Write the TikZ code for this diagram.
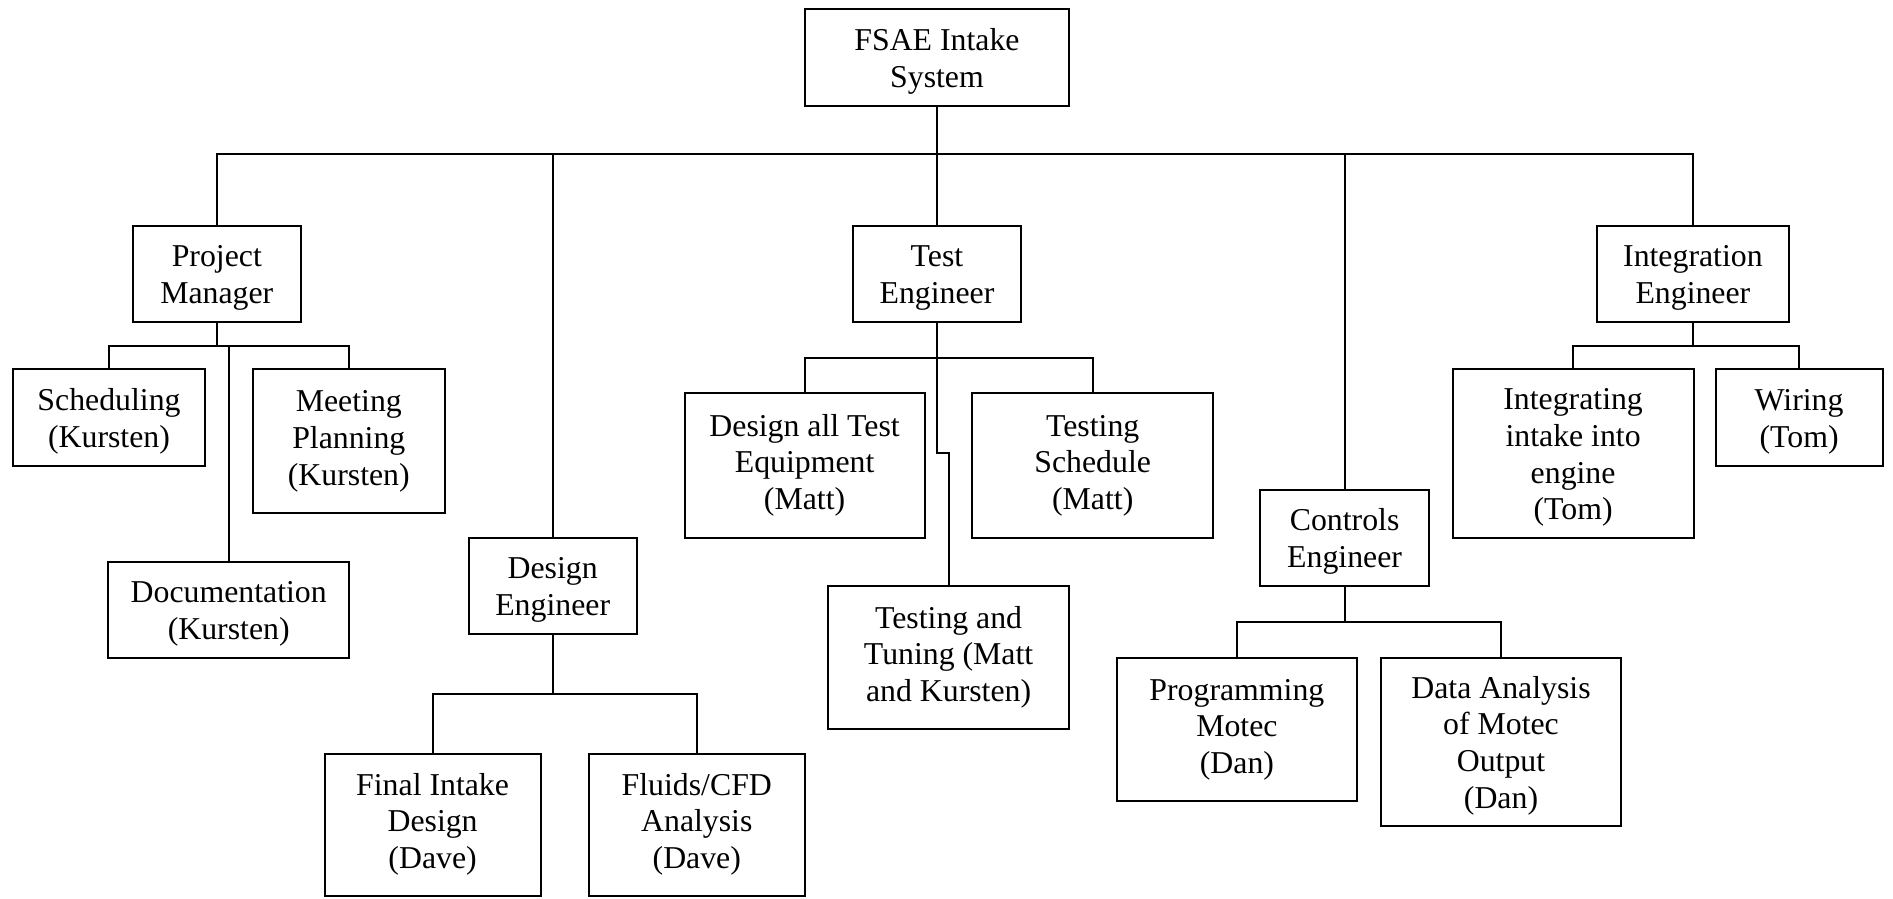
\documentclass[tikz,border=0pt]{standalone}
\usepackage{fontspec}
\setmainfont{Liberation Serif}
\newcommand{\fstrut}{\rule{0pt}{29.5pt}}
\newcommand{\lstrut}{\rule[-15pt]{0pt}{15pt}}
\tikzset{
  box/.style={draw=black, line width=2pt, inner sep=0pt, align=center,
    font=\fontsize{31.8}{36.7}\selectfont},
  link/.style={draw=black, line width=1.8pt}
}
\begin{document}
\begin{tikzpicture}[x=1pt,y=-1pt]
\useasboundingbox (0,0) rectangle (1893,898);
% level 0
\node[box, minimum width=264pt, minimum height=96.4pt] (root) at (937,57.5) {\fstrut FSAE Intake\\System};
% level 1
\node[box, minimum width=167.8pt, minimum height=96.3pt] (pm) at (216.8,273.9) {\fstrut Project\\Manager};
\node[box, minimum width=168pt, minimum height=96.3pt] (test) at (937,273.9) {\fstrut Test\\Engineer};
\node[box, minimum width=191.7pt, minimum height=96.3pt] (integ) at (1692.9,273.9) {\fstrut Integration\\Engineer};
\node[box, minimum width=168.4pt, minimum height=96pt] (design) at (552.7,585.7) {\fstrut Design\\Engineer};
\node[box, minimum width=168.3pt, minimum height=96pt] (controls) at (1344.6,537.7) {\fstrut Controls\\Engineer};
% project manager children
\node[box, minimum width=192pt, minimum height=96.4pt] (sched) at (109,417.5) {\fstrut Scheduling\\(Kursten)};
\node[box, minimum width=191.6pt, minimum height=144pt] (meet) at (348.8,441.3) {\fstrut Meeting\\Planning\\(Kursten)\lstrut};
\node[box, minimum width=240.6pt, minimum height=96.3pt] (doc) at (228.7,609.9) {\fstrut Documentation\\(Kursten)};
% design children
\node[box, minimum width=216pt, minimum height=142pt] (final) at (432.6,824.7) {\fstrut Final Intake\\Design\\(Dave)\lstrut};
\node[box, minimum width=215.6pt, minimum height=142pt] (fluids) at (696.8,824.7) {\fstrut Fluids/CFD\\Analysis\\(Dave)\lstrut};
% test children
\node[box, minimum width=240pt, minimum height=144.4pt] (dte) at (804.6,465.5) {\fstrut Design all Test\\Equipment\\(Matt)\lstrut};
\node[box, minimum width=240.6pt, minimum height=144.4pt] (tsched) at (1092.7,465.5) {\fstrut Testing\\Schedule\\(Matt)\lstrut};
\node[box, minimum width=240.3pt, minimum height=143.6pt] (tune) at (948.6,657.5) {\fstrut Testing and\\Tuning (Matt\\and Kursten)\lstrut};
% controls children
\node[box, minimum width=240.3pt, minimum height=143.6pt] (prog) at (1236.9,729.5) {\fstrut Programming\\Motec\\(Dan)\lstrut};
\node[box, minimum width=240pt, minimum height=168pt] (data) at (1501,741.7) {\fstrut Data Analysis\\of Motec\\Output\\(Dan)};
% integration children
\node[box, minimum width=240.8pt, minimum height=168.4pt] (integr) at (1573.1,453.5) {\fstrut Integrating\\intake into\\engine\\(Tom)};
\node[box, minimum width=167pt, minimum height=96.4pt] (wiring) at (1799.1,417.5) {\fstrut Wiring\\(Tom)};
% bus levels
\coordinate (bus) at (0,153.7);
\coordinate (pmbus) at (0,345.7);
\coordinate (tebus) at (0,357.7);
\coordinate (debus) at (0,693.7);
\coordinate (cebus) at (0,621.7);
\coordinate (inbus) at (0,345.7);
\coordinate (jog) at (937,453.3);
% top connectors
\draw[link] (pm.north) -- (pm.north |- bus) -- (integ.north |- bus) -- (integ.north);
\draw[link] (root.south) -- (test.north);
\draw[link] (design.north) -- (design.north |- bus);
\draw[link] (controls.north) -- (controls.north |- bus);
% project manager
\draw[link] (pm.south) -- (pm.south |- pmbus);
\draw[link] (sched.north) -- (sched.north |- pmbus) -- (meet.north |- pmbus) -- (meet.north);
\draw[link] (doc.north) -- (doc.north |- pmbus);
% test engineer
\draw[link] (dte.north) -- (dte.north |- tebus) -- (tsched.north |- tebus) -- (tsched.north);
\draw[link] (test.south) -- (jog) -| (tune.north);
% design engineer
\draw[link] (design.south) -- (design.south |- debus);
\draw[link] (final.north) -- (final.north |- debus) -- (fluids.north |- debus) -- (fluids.north);
% controls engineer
\draw[link] (controls.south) -- (controls.south |- cebus);
\draw[link] (prog.north) -- (prog.north |- cebus) -- (data.north |- cebus) -- (data.north);
% integration engineer
\draw[link] (integ.south) -- (integ.south |- inbus);
\draw[link] (integr.north) -- (integr.north |- inbus) -- (wiring.north |- inbus) -- (wiring.north);
\end{tikzpicture}
\end{document}
